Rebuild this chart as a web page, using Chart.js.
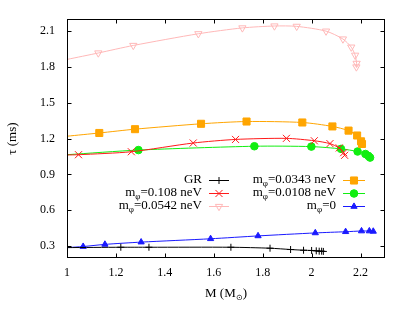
<!DOCTYPE html>
<html>
<head>
<meta charset="utf-8">
<script src="https://cdn.jsdelivr.net/npm/chart.js@4.4.1/dist/chart.umd.min.js"></script>
<style>
html, body { margin: 0; padding: 0; background: #fff; }
#wrap { width: 410px; height: 316px; }
</style>
</head>
<body>
<div id="wrap"><canvas id="c"></canvas></div>
<script>
// values (M in solar masses, tau in ms)
const grM = [1.0, 1.22, 1.335, 1.67, 1.83, 1.914, 1.967, 2.0, 2.019, 2.031, 2.041, 2.048];
const grTau = [0.287, 0.29, 0.29, 0.29, 0.282, 0.271, 0.265, 0.263, 0.26, 0.257, 0.257, 0.255];

const m108M = [1.0, 1.047, 1.263, 1.516, 1.689, 1.897, 2.011, 2.075, 2.113, 2.131, 2.135];
const m108Tau = [1.063, 1.065, 1.09, 1.163, 1.193, 1.202, 1.182, 1.158, 1.122, 1.082, 1.06];

const m0542M = [1.0, 1.128, 1.271, 1.537, 1.717, 1.848, 1.939, 2.059, 2.128, 2.162, 2.178, 2.184, 2.183];
const m0542Tau = [1.863, 1.917, 1.98, 2.078, 2.127, 2.143, 2.14, 2.1, 2.034, 1.966, 1.898, 1.83, 1.8];

const m0343M = [1.0, 1.132, 1.278, 1.548, 1.734, 1.962, 2.085, 2.151, 2.186, 2.202, 2.206];
const m0343Tau = [1.22, 1.247, 1.279, 1.324, 1.343, 1.335, 1.302, 1.267, 1.226, 1.177, 1.155];

const m0108M = [1.0, 1.292, 1.766, 1.999, 2.12, 2.188, 2.22, 2.232, 2.239];
const m0108Tau = [1.065, 1.104, 1.136, 1.133, 1.114, 1.092, 1.071, 1.055, 1.041];

const m0M = [1.0, 1.066, 1.155, 1.303, 1.587, 1.781, 2.015, 2.139, 2.204, 2.236, 2.252];
const m0Tau = [0.287, 0.296, 0.314, 0.333, 0.361, 0.385, 0.41, 0.42, 0.426, 0.426, 0.423];

const xTicks = [1, 1.2, 1.4, 1.6, 1.8, 2, 2.2];
const yTicks = [0.3, 0.6, 0.9, 1.2, 1.5, 1.8, 2.1];

const serif = '"Liberation Serif", "Times New Roman", serif';

const pts = (xs, ys) => xs.map((x, i) => ({ x, y: ys[i] }));

const series = [
	{ label: [["GR"]], xs: grM, ys: grTau, color: "#000000", style: "cross", r: 3.5, fill: "#000000", rot: 0, col: 0 },
	{ label: [["m"], ["φ", 1], ["=0.108 neV"]], xs: m108M, ys: m108Tau, color: "#ff1a1a", style: "crossRot", r: 5, fill: "#ff1a1a", rot: 0, col: 0 },
	{ label: [["m"], ["φ", 1], ["=0.0542 neV"]], xs: m0542M, ys: m0542Tau, color: "#ffb8b8", style: "triangle", r: 4.2, fill: "rgba(0,0,0,0)", rot: 180, col: 0 },
	{ label: [["m"], ["φ", 1], ["=0.0343 neV"]], xs: m0343M, ys: m0343Tau, color: "#ffa500", style: "rect", r: 5, fill: "#ffa500", rot: 0, col: 1 },
	{ label: [["m"], ["φ", 1], ["=0.0108 neV"]], xs: m0108M, ys: m0108Tau, color: "#11ee11", style: "circle", r: 3.8, fill: "#11ee11", rot: 0, col: 1 },
	{ label: [["m"], ["φ", 1], ["=0"]], xs: m0M, ys: m0Tau, color: "#1a1aff", style: "triangle", r: 3.6, fill: "#1a1aff", rot: 0, col: 1 },
];

// gnuplot-like frame, inward ticks, axis titles, two-column key
const frame = {
	id: "frame",
	afterDraw(chart) {
		const { ctx, chartArea: a, scales: { x, y } } = chart;
		ctx.save();
		ctx.strokeStyle = "#000";
		ctx.lineWidth = 1;
		const L = Math.round(a.left) + 0.5, R = Math.round(a.right) - 0.5;
		const T = Math.round(a.top) + 0.5, B = Math.round(a.bottom) - 0.5;
		ctx.strokeRect(L, T, R - L, B - T);
		ctx.beginPath();
		xTicks.forEach(v => {
			const px = Math.round(x.getPixelForValue(v)) + 0.5;
			ctx.moveTo(px, B); ctx.lineTo(px, B - 4);
			ctx.moveTo(px, T); ctx.lineTo(px, T + 4);
		});
		yTicks.forEach(v => {
			const py = Math.round(y.getPixelForValue(v)) + 0.5;
			ctx.moveTo(L, py); ctx.lineTo(L + 4, py);
			ctx.moveTo(R, py); ctx.lineTo(R - 4, py);
		});
		ctx.stroke();

		ctx.fillStyle = "#000";
		ctx.textBaseline = "middle";
		ctx.textAlign = "left";

		// x title: M (M_sun)
		ctx.font = "13px " + serif;
		const p1 = "M (M", p3 = ")";
		const w1 = ctx.measureText(p1).width, w3 = ctx.measureText(p3).width;
		ctx.font = "8px " + serif;
		const w2 = ctx.measureText("⊙").width;
		let sx = (a.left + a.right) / 2 - (w1 + w2 + w3) / 2;
		ctx.font = "13px " + serif;
		ctx.fillText(p1, sx, 294);
		ctx.font = "8px " + serif;
		ctx.fillText("⊙", sx + w1, 298);
		ctx.font = "13px " + serif;
		ctx.fillText(p3, sx + w1 + w2, 294);

		// y title
		ctx.save();
		ctx.translate(13, (a.top + a.bottom) / 2);
		ctx.rotate(-Math.PI / 2);
		ctx.textAlign = "center";
		ctx.fillText("τ (ms)", 0, 0);
		ctx.restore();

		// key
		const colText = [202, 336];
		const colLine = [[209, 229], [343, 365]];
		const rows = [180, 193, 206];
		const count = [0, 0];
		series.forEach(s => {
			const c = s.col;
			const yy = rows[count[c]++];
			let xx = colText[c];
			ctx.fillStyle = "#000";
			for (let i = s.label.length - 1; i >= 0; i--) {
				const [t, sub] = s.label[i];
				ctx.font = (sub ? "9px " : "13px ") + serif;
				xx -= ctx.measureText(t).width;
				ctx.fillText(t, xx, yy + (sub ? 4 : 0));
			}
			ctx.strokeStyle = s.color;
			ctx.lineWidth = 1;
			ctx.beginPath();
			ctx.moveTo(colLine[c][0], yy + 0.5);
			ctx.lineTo(colLine[c][1], yy + 0.5);
			ctx.stroke();
			ctx.fillStyle = s.fill;
			Chart.helpers.drawPoint(ctx, {
				pointStyle: s.style, radius: s.r, rotation: s.rot, borderWidth: 1,
			}, (colLine[c][0] + colLine[c][1]) / 2, yy + 0.5);
		});
		ctx.restore();
	},
};

new Chart(document.getElementById("c"), {
	type: "scatter",
	plugins: [frame],
	data: {
		datasets: series.map(s => ({
			data: pts(s.xs, s.ys),
			showLine: true,
			borderColor: s.color,
			borderWidth: 1,
			tension: 0.25,
			pointStyle: s.style,
			pointRotation: s.rot,
			pointRadius: c => (c.raw && c.raw.x <= 1 ? 0 : s.r),
			pointBackgroundColor: s.fill,
			pointBorderColor: s.color,
			pointBorderWidth: 1,
		})),
	},
	options: {
		responsive: true,
		maintainAspectRatio: false,
		animation: false,
		events: [],
		layout: { padding: { top: 13, right: 25, left: 0, bottom: 0 } },
		plugins: { legend: { display: false }, tooltip: { enabled: false } },
		scales: {
			x: {
				type: "linear",
				min: 1,
				max: 2.3,
				afterBuildTicks: sc => { sc.ticks = xTicks.map(value => ({ value })); },
				afterFit: sc => { sc.height = 58; },
				grid: { display: false, drawTicks: false },
				border: { display: false },
				ticks: {
					padding: 8,
					color: "#000",
					font: { family: serif, size: 12 },
					maxRotation: 0,
					callback: v => String(+v.toFixed(1)),
				},
			},
			y: {
				type: "linear",
				min: 0.2,
				max: 2.2,
				afterBuildTicks: sc => { sc.ticks = yTicks.map(value => ({ value })); },
				afterFit: sc => { sc.width = 67; },
				grid: { display: false, drawTicks: false },
				border: { display: false },
				ticks: {
					padding: 12,
					color: "#000",
					font: { family: serif, size: 12 },
					callback: v => v.toFixed(1),
				},
			},
		},
	},
});
</script>
</body>
</html>
